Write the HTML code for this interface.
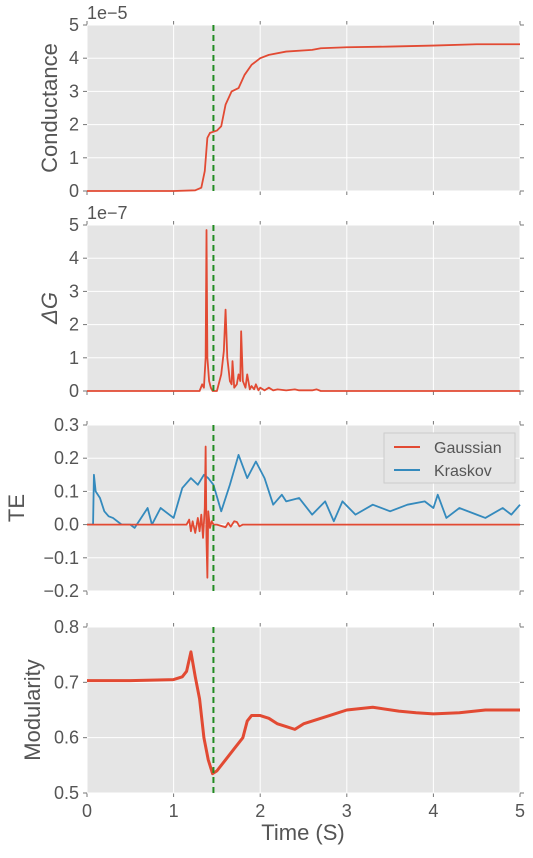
<!DOCTYPE html>
<html><head><meta charset="utf-8"><style>
body{margin:0;background:#fff;}
svg text{font-family:"Liberation Sans",sans-serif;fill:#555;}
</style></head><body>
<svg id="fig" width="533" height="853" xmlns="http://www.w3.org/2000/svg"></svg>
<script>
// ---- data ----
const condT=[0,1.0,1.25,1.32,1.36,1.39,1.42,1.5,1.55,1.6,1.67,1.75,1.82,1.9,2.0,2.1,2.3,2.6,2.7,3.0,3.5,4.0,4.5,5.0];
const condV=[0,0,0.02,0.1,0.6,1.6,1.75,1.82,1.95,2.6,3.0,3.1,3.5,3.8,4.0,4.1,4.2,4.25,4.3,4.33,4.35,4.38,4.42,4.42];
const dgT=[0,1.3,1.33,1.35,1.37,1.38,1.39,1.41,1.43,1.45,1.5,1.55,1.58,1.6,1.62,1.65,1.67,1.68,1.7,1.73,1.75,1.77,1.78,1.8,1.83,1.85,1.88,1.9,1.93,1.95,1.98,2.0,2.05,2.1,2.15,2.2,2.3,2.4,2.45,2.6,2.65,2.7,5.0];
const dgV=[0,0,0.2,0.1,1.0,4.85,1.0,0.3,0.1,0,0,0.5,1.2,2.45,1.0,0.3,0.2,0.9,0.1,0.2,0.5,0.3,1.8,0.3,0.1,0.5,0.05,0.15,0.05,0.2,0.02,0.1,0.02,0.1,0.02,0.05,0.02,0.05,0.02,0.02,0.05,0,0];
const krT=[0,0.07,0.08,0.1,0.15,0.2,0.25,0.3,0.4,0.5,0.55,0.6,0.7,0.75,0.85,1.0,1.1,1.2,1.28,1.35,1.4,1.46,1.55,1.65,1.75,1.85,1.95,2.05,2.15,2.25,2.3,2.45,2.6,2.75,2.85,2.95,3.1,3.3,3.5,3.7,3.9,4.0,4.05,4.15,4.3,4.5,4.6,4.8,4.9,5.0];
const krV=[0,0,0.15,0.1,0.08,0.04,0.025,0.02,0,0,-0.01,0.01,0.05,0,0.05,0.02,0.11,0.14,0.12,0.15,0.14,0.12,0.04,0.12,0.21,0.14,0.19,0.14,0.06,0.09,0.07,0.08,0.03,0.07,0.01,0.07,0.03,0.06,0.04,0.06,0.07,0.05,0.09,0.02,0.05,0.03,0.02,0.05,0.03,0.06];
const gaT=[0,1.15,1.18,1.2,1.22,1.25,1.28,1.3,1.32,1.34,1.36,1.37,1.38,1.39,1.4,1.42,1.44,1.46,1.5,1.6,1.63,1.66,1.7,1.73,1.76,1.8,5.0];
const gaV=[0,0,0.015,-0.02,0.01,-0.025,0.02,-0.02,0.03,-0.04,0.05,0.235,-0.05,-0.16,0.04,-0.01,0.01,0,0,-0.008,0.005,-0.006,0.01,0.008,-0.005,0,0];
const moT=[0,0.5,1.0,1.1,1.15,1.2,1.25,1.3,1.35,1.4,1.45,1.5,1.6,1.7,1.8,1.85,1.9,2.0,2.1,2.2,2.3,2.4,2.5,2.6,2.8,3.0,3.3,3.6,3.8,4.0,4.3,4.6,5.0];
const moV=[0.703,0.703,0.705,0.71,0.72,0.755,0.71,0.67,0.6,0.56,0.535,0.54,0.56,0.58,0.6,0.63,0.64,0.64,0.635,0.625,0.62,0.615,0.625,0.63,0.64,0.65,0.655,0.648,0.645,0.643,0.645,0.65,0.65];
const xTicks=[0,1,2,3,4,5];
const vline=1.46;
const NS="http://www.w3.org/2000/svg";
const svg=document.getElementById('fig');
const X0=87,X1=520;
const xs=t=>X0+(t/5)*(X1-X0);
function mk(tag,attrs,parent){const e=document.createElementNS(NS,tag);for(const k in attrs)e.setAttribute(k,attrs[k]);(parent||svg).appendChild(e);return e;}
function panel(name,top,bot,ymin,ymax,yTicks,yLabels,ylabel,offset,series,showX){
  const g=mk('g',{});
  
  
  const ys=v=>bot-(v-ymin)/(ymax-ymin)*(bot-top);
  const bg=mk('rect',{x:X0,y:top,width:X1-X0,height:bot-top,fill:'#e5e5e5'},g);
  
  
  xTicks.forEach(t=>{mk('line',{x1:xs(t),x2:xs(t),y1:top,y2:bot,stroke:'#fff','stroke-width':1},g);
    mk('line',{x1:xs(t),x2:xs(t),y1:top-4,y2:top,stroke:'#777'},g);mk('line',{x1:xs(t),x2:xs(t),y1:bot,y2:bot+4,stroke:'#777'},g);
    if(showX){const tx=mk('text',{x:xs(t),y:bot+24,'font-size':18,'text-anchor':'middle'},g);tx.textContent=t;
      }});
  yTicks.forEach((v,i)=>{mk('line',{x1:X0,x2:X1,y1:ys(v),y2:ys(v),stroke:'#fff','stroke-width':1},g);
    mk('line',{x1:X0-4,x2:X0,y1:ys(v),y2:ys(v),stroke:'#777'},g);mk('line',{x1:X1,x2:X1+4,y1:ys(v),y2:ys(v),stroke:'#777'},g);
    const tx=mk('text',{x:X0-8,y:ys(v)+6,'font-size':18,'text-anchor':'end'},g);tx.textContent=yLabels[i];
    });
  series.forEach(s=>{
    const p=mk('polyline',{points:s.t.map((t,i)=>xs(t)+','+ys(s.v[i])).join(' '),fill:'none',stroke:s.c,'stroke-width':s.w||1.8,'stroke-linejoin':'round'},g);
    });
  const vl=mk('line',{x1:xs(vline),x2:xs(vline),y1:top,y2:bot,stroke:'#228B22','stroke-width':2,'stroke-dasharray':'6,4'},g);
  
  const yl=mk('text',{x:0,y:0,'font-size':22,'text-anchor':'middle',transform:`translate(${ylabel.x},${(top+bot)/2}) rotate(-90)`,'font-style':ylabel.it?'italic':'normal','font-family':ylabel.it?'Liberation Serif, serif':''},g);
  yl.textContent=ylabel.s;
  if(offset){const o=mk('text',{x:X0,y:top-6,'font-size':18},g);o.textContent=offset;}
  return ys;
}
const R='#e24a33',B='#348abd';
panel('conductance-panel',25,191,0,5,[0,1,2,3,4,5],['0','1','2','3','4','5'],{s:'Conductance',x:57},'1e\u22125',[{t:condT,v:condV,c:R,n:'conductance-line'}],false);
panel('delta-g-panel',225,391,0,5,[0,1,2,3,4,5],['0','1','2','3','4','5'],{s:'ΔG',x:57,it:true},'1e\u22127',[{t:dgT,v:dgV,c:R,n:'delta-g-line'}],false);
panel('te-panel',425,591,-0.2,0.3,[-0.2,-0.1,0,0.1,0.2,0.3],['\u22120.2','\u22120.1','0.0','0.1','0.2','0.3'],{s:'TE',x:24},null,[{t:krT,v:krV,c:B,n:'kraskov-line'},{t:gaT,v:gaV,c:R,n:'gaussian-line'}],false);
panel('modularity-panel',627,793,0.5,0.8,[0.5,0.6,0.7,0.8],['0.5','0.6','0.7','0.8'],{s:'Modularity',x:40},null,[{t:moT,v:moV,c:R,n:'modularity-line',w:3}],true);
</script>
<svg style="position:absolute;left:0;top:0" width="533" height="853">
<g>
<rect x="384" y="433" width="131" height="50" fill="#e5e5e5" stroke="#ccc"/>
<line x1="394" y1="447" x2="420" y2="447" stroke="#e24a33" stroke-width="2"/>
<text x="434" y="453" font-size="16" fill="#222" style="font-family:'Liberation Sans',sans-serif">Gaussian</text>
<line x1="394" y1="470" x2="420" y2="470" stroke="#348abd" stroke-width="2"/>
<text x="434" y="476" font-size="16" fill="#222" style="font-family:'Liberation Sans',sans-serif">Kraskov</text>
</g>
<text x="303" y="840" font-size="22" text-anchor="middle" fill="#555" style="font-family:'Liberation Sans',sans-serif">Time (S)</text>
</svg>
<style>body{position:relative;}</style>
</body></html>
